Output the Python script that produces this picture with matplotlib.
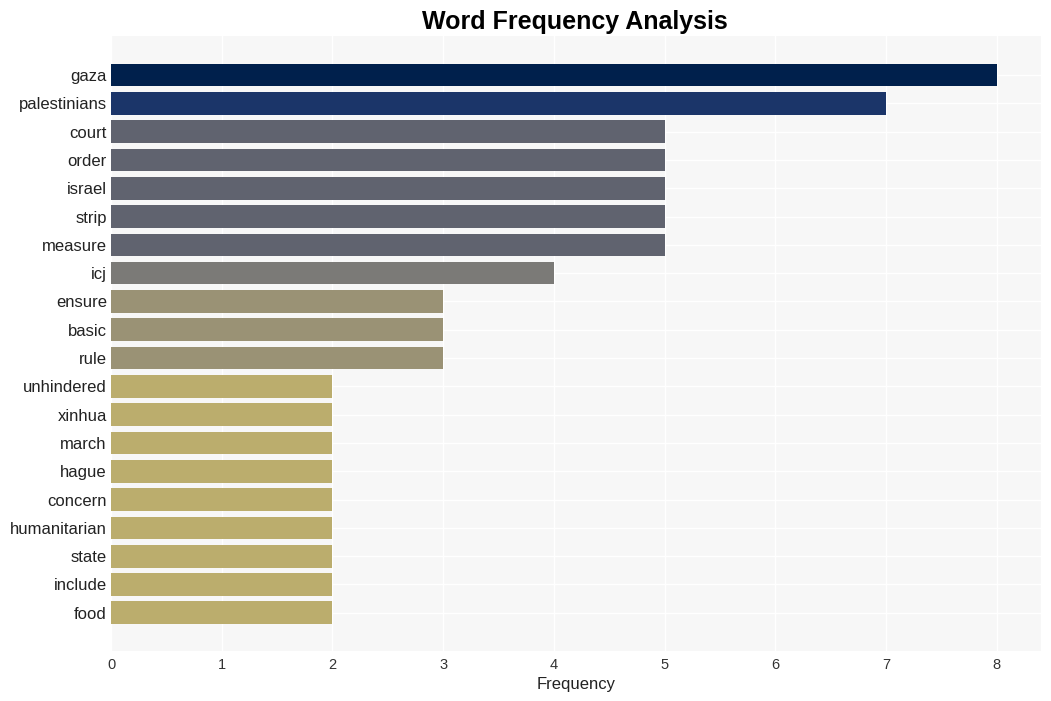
import matplotlib
matplotlib.use("Agg")
import matplotlib.pyplot as plt

plt.rcParams["font.family"] = ["Liberation Sans", "DejaVu Sans"]

words = ["gaza", "palestinians", "court", "order", "israel", "strip", "measure", "icj",
         "ensure", "basic", "rule", "unhindered", "xinhua", "march", "hague", "concern",
         "humanitarian", "state", "include", "food"]
counts = [8, 7, 5, 5, 5, 5, 5, 4, 3, 3, 3, 2, 2, 2, 2, 2, 2, 2, 2, 2]
color_by_count = {8: "#00204C", 7: "#1B3569", 5: "#60636F", 4: "#7B7A77", 3: "#9A9275", 2: "#BBAD6D"}
colors = [color_by_count[c] for c in counts]

fig = plt.figure(figsize=(10.51, 7.01), dpi=100)
ax = fig.add_axes([111/1051, 1 - 651/701, (1041-111)/1051, (651-36)/701])
ax.set_facecolor("#F7F7F7")
ypos = list(range(len(words)))
ax.barh(ypos, counts, height=0.8, color=colors, zorder=2)
ax.set_yticks(ypos)
ax.set_yticklabels(words, fontsize=12, color="#222222")
ax.set_ylim(len(words) - 1 + 1.35, -1.38)
ax.set_xlim(0, 8.4)
ax.set_xticks(range(0, 9))
ax.tick_params(axis="x", labelsize=10.5, colors="#333333", length=0, pad=5)
ax.tick_params(axis="y", length=0, pad=3)
ax.grid(True, color="white", linewidth=1, zorder=0)
ax.set_axisbelow(True)
for s in ax.spines.values():
    s.set_visible(False)
ax.set_xlabel("Frequency", fontsize=12, color="#222222", labelpad=4)
fig.suptitle("Word Frequency Analysis", fontsize=18, fontweight="bold", y=0.986, x=575/1051)
fig.savefig("out.png", dpi=100, facecolor="white")
